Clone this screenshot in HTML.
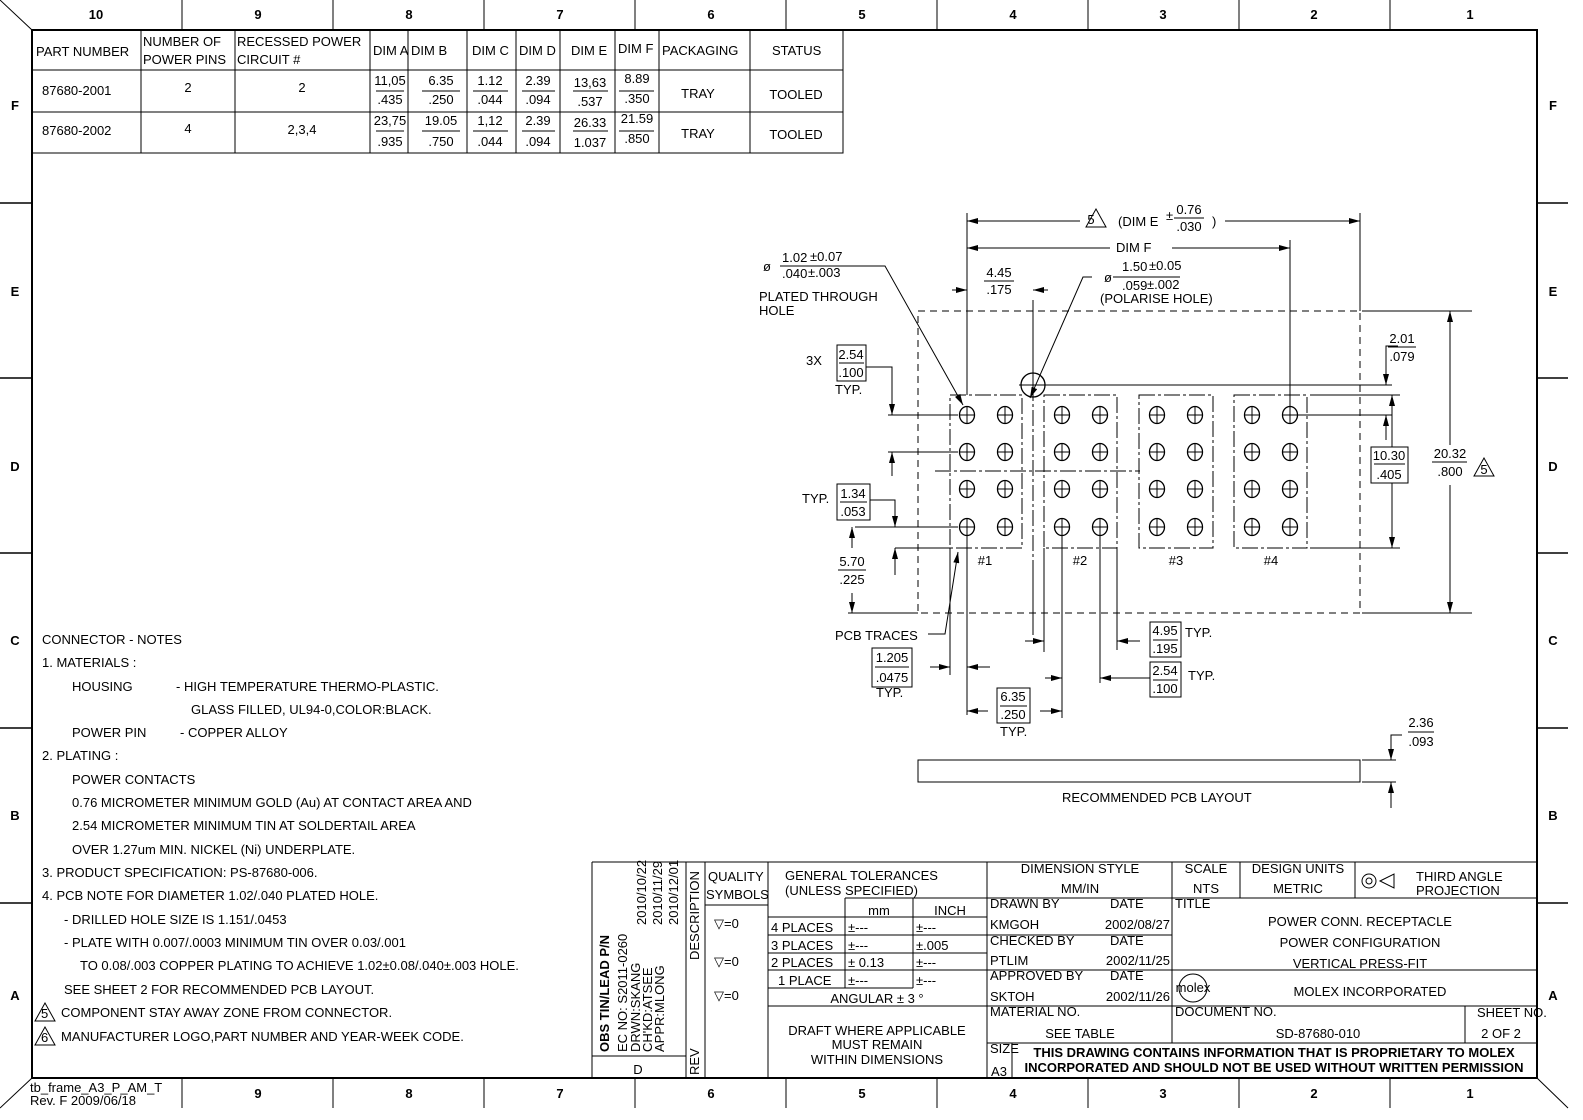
<!DOCTYPE html>
<html><head><meta charset="utf-8"><style>
html,body{margin:0;padding:0;background:#fff}
svg{display:block}
text{font-family:"Liberation Sans Narrow","Liberation Sans",sans-serif;fill:#000;font-size:13px}
.b{font-weight:bold}
</style></head><body>
<svg width="1583" height="1120" viewBox="0 0 1583 1120" xmlns="http://www.w3.org/2000/svg">
<defs>
<marker id="a" markerUnits="userSpaceOnUse" markerWidth="12" markerHeight="6" refX="11" refY="3" orient="auto"><path d="M0,0 L11,3 L0,6z" fill="#000"/></marker>
<g id="h"><ellipse cx="0" cy="0" rx="7.5" ry="8.5" fill="none" stroke="#000" stroke-width="1.3"/><line x1="-7.5" y1="0" x2="7.5" y2="0" stroke="#000"/><line x1="0" y1="-8.5" x2="0" y2="8.5" stroke="#000"/></g>
<g id="tri"><path d="M0,-10 L-10,8 L10,8z" fill="none" stroke="#000"/></g>
</defs>
<g stroke="#000" fill="none" stroke-width="1">
<rect x="32" y="30" width="1505" height="1048" stroke-width="2"/>
<line x1="0" y1="0" x2="32" y2="30"/>
<line x1="0" y1="1108" x2="32" y2="1078"/>
<line x1="1537" y1="1078" x2="1568" y2="1108"/>
<line x1="182" y1="0" x2="182" y2="30"/><line x1="333" y1="0" x2="333" y2="30"/><line x1="484" y1="0" x2="484" y2="30"/><line x1="635" y1="0" x2="635" y2="30"/><line x1="786" y1="0" x2="786" y2="30"/><line x1="937" y1="0" x2="937" y2="30"/><line x1="1088" y1="0" x2="1088" y2="30"/><line x1="1239" y1="0" x2="1239" y2="30"/><line x1="1390" y1="0" x2="1390" y2="30"/>
<line x1="182" y1="1078" x2="182" y2="1108"/><line x1="333" y1="1078" x2="333" y2="1108"/><line x1="484" y1="1078" x2="484" y2="1108"/><line x1="635" y1="1078" x2="635" y2="1108"/><line x1="786" y1="1078" x2="786" y2="1108"/><line x1="937" y1="1078" x2="937" y2="1108"/><line x1="1088" y1="1078" x2="1088" y2="1108"/><line x1="1239" y1="1078" x2="1239" y2="1108"/><line x1="1390" y1="1078" x2="1390" y2="1108"/>
<g stroke-width="1.5">
<line x1="0" y1="203" x2="32" y2="203"/><line x1="0" y1="378" x2="32" y2="378"/><line x1="0" y1="553" x2="32" y2="553"/><line x1="0" y1="728" x2="32" y2="728"/><line x1="0" y1="903" x2="32" y2="903"/>
<line x1="1537" y1="203" x2="1568" y2="203"/><line x1="1537" y1="378" x2="1568" y2="378"/><line x1="1537" y1="553" x2="1568" y2="553"/><line x1="1537" y1="728" x2="1568" y2="728"/><line x1="1537" y1="903" x2="1568" y2="903"/>
</g>
<rect x="32" y="30" width="811" height="123"/>
<line x1="32" y1="70" x2="843" y2="70"/><line x1="32" y1="112" x2="843" y2="112"/>
<line x1="141" y1="30" x2="141" y2="153"/><line x1="235" y1="30" x2="235" y2="153"/><line x1="370" y1="30" x2="370" y2="153"/><line x1="408" y1="30" x2="408" y2="153"/><line x1="467" y1="30" x2="467" y2="153"/><line x1="516" y1="30" x2="516" y2="153"/><line x1="560" y1="30" x2="560" y2="153"/><line x1="615" y1="30" x2="615" y2="153"/><line x1="659" y1="30" x2="659" y2="153"/><line x1="750" y1="30" x2="750" y2="153"/>
<g>
<line x1="376" y1="91" x2="404" y2="91"/><line x1="422" y1="91" x2="460" y2="91"/><line x1="473" y1="91" x2="508" y2="91"/><line x1="522" y1="91" x2="555" y2="91"/><line x1="573" y1="91" x2="608" y2="91"/><line x1="619" y1="91" x2="654" y2="91"/>
<line x1="376" y1="131" x2="404" y2="131"/><line x1="422" y1="131" x2="460" y2="131"/><line x1="473" y1="131" x2="508" y2="131"/><line x1="522" y1="131" x2="555" y2="131"/><line x1="573" y1="131" x2="608" y2="131"/><line x1="619" y1="131" x2="654" y2="131"/>
</g>
<rect x="918" y="311" width="442" height="302" stroke-dasharray="7,5"/>
<g stroke-dasharray="16,3,3,3">
<rect x="950" y="395" width="72" height="153"/><rect x="1044" y="395" width="73" height="153"/><rect x="1139" y="395" width="74" height="153"/><rect x="1234" y="395" width="73" height="153"/>
<line x1="935" y1="471" x2="1140" y2="471"/>
<line x1="1033" y1="360" x2="1033" y2="560"/>
</g>
<line x1="1033" y1="560" x2="1033" y2="635"/>
<circle cx="1033" cy="385" r="12" stroke-width="1.3"/><line x1="1019" y1="385" x2="1047" y2="385"/><line x1="1033" y1="371" x2="1033" y2="399"/>
<line x1="967" y1="213" x2="967" y2="395"/><line x1="1360" y1="213" x2="1360" y2="311"/>
<line x1="1080" y1="221" x2="967" y2="221" marker-end="url(#a)"/><line x1="1225" y1="221" x2="1360" y2="221" marker-end="url(#a)"/>
<use href="#tri" x="1096" y="219"/>
<line x1="1174" y1="218" x2="1204" y2="218"/>
<line x1="1290" y1="240" x2="1290" y2="407"/>
<line x1="1110" y1="248" x2="967" y2="248" marker-end="url(#a)"/><line x1="1172" y1="248" x2="1290" y2="248" marker-end="url(#a)"/>
<line x1="952" y1="290" x2="967" y2="290" marker-end="url(#a)"/><line x1="1048" y1="290" x2="1033" y2="290" marker-end="url(#a)"/>
<line x1="1033" y1="300" x2="1033" y2="360"/>
<line x1="984" y1="281" x2="1014" y2="281"/>
<line x1="780" y1="266" x2="858" y2="266"/>
<polyline points="858,266 885,266 963,405" marker-end="url(#a)"/>
<line x1="1113" y1="277" x2="1180" y2="277"/>
<polyline points="1092,277 1083,277 1030,398" marker-end="url(#a)"/>
<polyline points="1398,346 1386,346 1386,385" marker-end="url(#a)"/>
<line x1="1047" y1="385" x2="1392" y2="385"/>
<line x1="1297" y1="415" x2="1392" y2="415"/>
<line x1="1386" y1="440" x2="1386" y2="415" marker-end="url(#a)"/>
<line x1="1388" y1="347" x2="1416" y2="347"/>
<line x1="1310" y1="395" x2="1400" y2="395"/><line x1="1310" y1="548" x2="1400" y2="548"/>
<line x1="1392" y1="447" x2="1392" y2="395" marker-end="url(#a)"/><line x1="1392" y1="483" x2="1392" y2="548" marker-end="url(#a)"/>
<rect x="1371" y="447" width="37" height="36" fill="#fff"/><line x1="1374" y1="464" x2="1405" y2="464"/>
<line x1="1362" y1="311" x2="1472" y2="311"/><line x1="1362" y1="613" x2="1472" y2="613"/>
<line x1="1450" y1="445" x2="1450" y2="311" marker-end="url(#a)"/><line x1="1450" y1="485" x2="1450" y2="613" marker-end="url(#a)"/>
<line x1="1432" y1="462" x2="1467" y2="462"/>
<use href="#tri" x="1484" y="468"/>
<rect x="837" y="345" width="29" height="36"/><line x1="839" y1="363" x2="864" y2="363"/>
<polyline points="866,367 892,367 892,415" marker-end="url(#a)"/>
<line x1="888" y1="415" x2="958" y2="415"/>
<line x1="888" y1="452" x2="958" y2="452"/>
<line x1="892" y1="476" x2="892" y2="452" marker-end="url(#a)"/>
<rect x="837" y="484" width="33" height="36"/><line x1="840" y1="502" x2="867" y2="502"/>
<polyline points="870,500 895,500 895,527" marker-end="url(#a)"/>
<line x1="855" y1="527" x2="958" y2="527"/>
<line x1="895" y1="548" x2="950" y2="548"/>
<line x1="895" y1="575" x2="895" y2="548" marker-end="url(#a)"/>
<line x1="838" y1="570" x2="866" y2="570"/>
<line x1="852" y1="548" x2="852" y2="527" marker-end="url(#a)"/>
<line x1="852" y1="593" x2="852" y2="613" marker-end="url(#a)"/>
<line x1="848" y1="613" x2="918" y2="613"/>
<polyline points="928,634 945,634 958,552" marker-end="url(#a)"/>
<line x1="950" y1="548" x2="950" y2="675"/><line x1="967" y1="535" x2="967" y2="715"/>
<rect x="872" y="648" width="40" height="39"/><line x1="875" y1="667" x2="909" y2="667"/>
<line x1="930" y1="667" x2="950" y2="667" marker-end="url(#a)"/><line x1="990" y1="667" x2="967" y2="667" marker-end="url(#a)"/>
<line x1="1062" y1="535" x2="1062" y2="718"/>
<rect x="997" y="688" width="33" height="35"/><line x1="1000" y1="706" x2="1027" y2="706"/>
<line x1="988" y1="711" x2="967" y2="711" marker-end="url(#a)"/><line x1="1040" y1="711" x2="1062" y2="711" marker-end="url(#a)"/>
<line x1="1044" y1="548" x2="1044" y2="652"/><line x1="1117" y1="548" x2="1117" y2="650"/>
<line x1="1025" y1="641" x2="1044" y2="641" marker-end="url(#a)"/><line x1="1140" y1="641" x2="1117" y2="641" marker-end="url(#a)"/>
<rect x="1150" y="622" width="31" height="35"/><line x1="1153" y1="640" x2="1178" y2="640"/>
<line x1="1100" y1="535" x2="1100" y2="683"/>
<line x1="1045" y1="678" x2="1062" y2="678" marker-end="url(#a)"/><line x1="1150" y1="678" x2="1100" y2="678" marker-end="url(#a)"/>
<rect x="1150" y="662" width="31" height="35"/><line x1="1153" y1="680" x2="1178" y2="680"/>
<rect x="918" y="760" width="442" height="22"/>
<polyline points="1402,735 1391,735 1391,760" marker-end="url(#a)"/>
<line x1="1391" y1="808" x2="1391" y2="782" marker-end="url(#a)"/>
<line x1="1362" y1="760" x2="1396" y2="760"/><line x1="1362" y1="782" x2="1396" y2="782"/>
<line x1="1408" y1="732" x2="1434" y2="732"/>
<line x1="592" y1="862" x2="1537" y2="862"/>
<line x1="592" y1="862" x2="592" y2="1078"/>
<line x1="686" y1="862" x2="686" y2="1078"/><line x1="705" y1="862" x2="705" y2="1078"/><line x1="768" y1="862" x2="768" y2="1078"/><line x1="987" y1="862" x2="987" y2="1078"/>
<line x1="592" y1="1056" x2="686" y2="1056"/>
<line x1="705" y1="905" x2="768" y2="905"/>
<line x1="845" y1="898" x2="987" y2="898"/>
<line x1="768" y1="917" x2="987" y2="917"/><line x1="768" y1="935" x2="987" y2="935"/><line x1="768" y1="953" x2="987" y2="953"/><line x1="768" y1="970" x2="987" y2="970"/><line x1="768" y1="988" x2="913" y2="988"/><line x1="768" y1="1006" x2="987" y2="1006"/>
<line x1="845" y1="898" x2="845" y2="988"/><line x1="913" y1="898" x2="913" y2="988"/>
<line x1="987" y1="898" x2="1537" y2="898"/>
<line x1="1172" y1="862" x2="1172" y2="1043"/><line x1="1240" y1="862" x2="1240" y2="898"/><line x1="1355" y1="862" x2="1355" y2="898"/>
<line x1="987" y1="935" x2="1172" y2="935"/><line x1="987" y1="970" x2="1537" y2="970"/><line x1="987" y1="1006" x2="1537" y2="1006"/><line x1="987" y1="1043" x2="1537" y2="1043"/>
<line x1="1465" y1="1006" x2="1465" y2="1043"/>
<line x1="1012" y1="1043" x2="1012" y2="1078"/>
<circle cx="1369" cy="881" r="7"/><circle cx="1369" cy="881" r="3"/>
<path d="M1380,881 L1394,874 L1394,888 Z"/>
<circle cx="1193" cy="988" r="14"/>
<use href="#tri" x="45" y="1013"/><use href="#tri" x="45" y="1037"/>
</g>
<g>
<use href="#h" x="967" y="415"/><use href="#h" x="1005" y="415"/><use href="#h" x="967" y="452"/><use href="#h" x="1005" y="452"/><use href="#h" x="967" y="489"/><use href="#h" x="1005" y="489"/><use href="#h" x="967" y="527"/><use href="#h" x="1005" y="527"/>
<use href="#h" x="1062" y="415"/><use href="#h" x="1100" y="415"/><use href="#h" x="1062" y="452"/><use href="#h" x="1100" y="452"/><use href="#h" x="1062" y="489"/><use href="#h" x="1100" y="489"/><use href="#h" x="1062" y="527"/><use href="#h" x="1100" y="527"/>
<use href="#h" x="1157" y="415"/><use href="#h" x="1195" y="415"/><use href="#h" x="1157" y="452"/><use href="#h" x="1195" y="452"/><use href="#h" x="1157" y="489"/><use href="#h" x="1195" y="489"/><use href="#h" x="1157" y="527"/><use href="#h" x="1195" y="527"/>
<use href="#h" x="1252" y="415"/><use href="#h" x="1290" y="415"/><use href="#h" x="1252" y="452"/><use href="#h" x="1290" y="452"/><use href="#h" x="1252" y="489"/><use href="#h" x="1290" y="489"/><use href="#h" x="1252" y="527"/><use href="#h" x="1290" y="527"/>
</g>
<g text-anchor="middle">
<text x="96" y="19" class="b">10</text><text x="258" y="19" class="b">9</text><text x="409" y="19" class="b">8</text><text x="560" y="19" class="b">7</text><text x="711" y="19" class="b">6</text><text x="862" y="19" class="b">5</text><text x="1013" y="19" class="b">4</text><text x="1163" y="19" class="b">3</text><text x="1314" y="19" class="b">2</text><text x="1470" y="19" class="b">1</text>
<text x="258" y="1098" class="b">9</text><text x="409" y="1098" class="b">8</text><text x="560" y="1098" class="b">7</text><text x="711" y="1098" class="b">6</text><text x="862" y="1098" class="b">5</text><text x="1013" y="1098" class="b">4</text><text x="1163" y="1098" class="b">3</text><text x="1314" y="1098" class="b">2</text><text x="1470" y="1098" class="b">1</text>
<text x="15" y="110" class="b">F</text><text x="15" y="296" class="b">E</text><text x="15" y="471" class="b">D</text><text x="15" y="645" class="b">C</text><text x="15" y="820" class="b">B</text><text x="15" y="1000" class="b">A</text>
<text x="1553" y="110" class="b">F</text><text x="1553" y="296" class="b">E</text><text x="1553" y="471" class="b">D</text><text x="1553" y="645" class="b">C</text><text x="1553" y="820" class="b">B</text><text x="1553" y="1000" class="b">A</text>
</g>
<text x="30" y="1092" font-size="12">tb_frame_A3_P_AM_T</text>
<text x="30" y="1105" font-size="12">Rev. F 2009/06/18</text>
<g font-size="12.5">
<text x="36" y="56">PART NUMBER</text>
<text x="143" y="46">NUMBER OF</text><text x="143" y="64">POWER PINS</text>
<text x="237" y="46" font-size="12">RECESSED POWER</text><text x="237" y="64">CIRCUIT #</text>
<g font-size="11"><text x="373" y="55">DIM A</text><text x="411" y="55">DIM B</text><text x="472" y="55">DIM C</text><text x="519" y="55">DIM D</text><text x="571" y="55">DIM E</text><text x="618" y="53">DIM F</text></g>
<text x="662" y="55">PACKAGING</text><text x="772" y="55">STATUS</text>
<text x="42" y="95">87680-2001</text><text x="42" y="135">87680-2002</text>
<g text-anchor="middle">
<text x="188" y="92">2</text><text x="302" y="92">2</text><text x="188" y="133">4</text><text x="302" y="134">2,3,4</text>
<text x="390" y="85">11,05</text><text x="390" y="104">.435</text><text x="441" y="85">6.35</text><text x="441" y="104">.250</text><text x="490" y="85">1.12</text><text x="490" y="104">.044</text><text x="538" y="85">2.39</text><text x="538" y="104">.094</text><text x="590" y="87">13,63</text><text x="590" y="106">.537</text><text x="637" y="83">8.89</text><text x="637" y="103">.350</text>
<text x="390" y="125">23,75</text><text x="390" y="146">.935</text><text x="441" y="125">19.05</text><text x="441" y="146">.750</text><text x="490" y="125">1,12</text><text x="490" y="146">.044</text><text x="538" y="125">2.39</text><text x="538" y="146">.094</text><text x="590" y="127">26.33</text><text x="590" y="147">1.037</text><text x="637" y="123">21.59</text><text x="637" y="143">.850</text>
<text x="698" y="98">TRAY</text><text x="796" y="99">TOOLED</text><text x="698" y="138">TRAY</text><text x="796" y="139">TOOLED</text>
</g></g>
<g font-size="13.5">
<text x="1091" y="224" font-size="10" text-anchor="middle">5</text>
<text x="1118" y="226">(DIM E</text><text x="1166" y="220" font-size="9">±</text>
<text x="1189" y="214" text-anchor="middle">0.76</text><text x="1189" y="231" text-anchor="middle">.030</text><text x="1212" y="226">)</text>
<text x="1116" y="252">DIM F</text>
<text x="999" y="277" text-anchor="middle">4.45</text><text x="999" y="294" text-anchor="middle">.175</text>
<text x="763" y="271">ø</text><text x="782" y="262">1.02</text><text x="810" y="261" font-size="9">±0.07</text><text x="782" y="278">.040</text><text x="808" y="277" font-size="9">±.003</text>
<text x="759" y="301">PLATED THROUGH</text><text x="759" y="315">HOLE</text>
<text x="1104" y="282">ø</text><text x="1122" y="271">1.50</text><text x="1149" y="270" font-size="9">±0.05</text><text x="1122" y="290">.059</text><text x="1147" y="289" font-size="9">±.002</text>
<text x="1100" y="303">(POLARISE HOLE)</text>
<text x="1402" y="343" text-anchor="middle">2.01</text><text x="1402" y="361" text-anchor="middle">.079</text>
<text x="1389" y="460" text-anchor="middle">10.30</text><text x="1389" y="479" text-anchor="middle">.405</text>
<text x="1450" y="458" text-anchor="middle">20.32</text><text x="1450" y="476" text-anchor="middle">.800</text>
<text x="1484" y="474" font-size="10" text-anchor="middle">5</text>
<text x="806" y="365">3X</text><text x="851" y="359" text-anchor="middle">2.54</text><text x="851" y="377" text-anchor="middle">.100</text><text x="835" y="394">TYP.</text>
<text x="802" y="503">TYP.</text><text x="853" y="498" text-anchor="middle">1.34</text><text x="853" y="516" text-anchor="middle">.053</text>
<text x="852" y="566" text-anchor="middle">5.70</text><text x="852" y="584" text-anchor="middle">.225</text>
<text x="835" y="640">PCB TRACES</text>
<text x="985" y="565" text-anchor="middle">#1</text><text x="1080" y="565" text-anchor="middle">#2</text><text x="1176" y="565" text-anchor="middle">#3</text><text x="1271" y="565" text-anchor="middle">#4</text>
<text x="892" y="662" text-anchor="middle">1.205</text><text x="892" y="682" text-anchor="middle">.0475</text><text x="876" y="697">TYP.</text>
<text x="1013" y="701" text-anchor="middle">6.35</text><text x="1013" y="719" text-anchor="middle">.250</text><text x="1000" y="736">TYP.</text>
<text x="1165" y="635" text-anchor="middle">4.95</text><text x="1165" y="653" text-anchor="middle">.195</text><text x="1185" y="637">TYP.</text>
<text x="1165" y="675" text-anchor="middle">2.54</text><text x="1165" y="693" text-anchor="middle">.100</text><text x="1188" y="680">TYP.</text>
<text x="1421" y="727" text-anchor="middle">2.36</text><text x="1421" y="746" text-anchor="middle">.093</text>
<text x="1062" y="802">RECOMMENDED PCB LAYOUT</text>
</g>
<g font-size="14.3">
<text x="42" y="644">CONNECTOR - NOTES</text>
<text x="42" y="667">1.  MATERIALS :</text>
<text x="72" y="691">HOUSING</text><text x="176" y="691">- HIGH TEMPERATURE THERMO-PLASTIC.</text>
<text x="191" y="714">GLASS FILLED, UL94-0,COLOR:BLACK.</text>
<text x="72" y="737">POWER PIN</text><text x="180" y="737">- COPPER ALLOY</text>
<text x="42" y="760">2.  PLATING :</text>
<text x="72" y="784">POWER CONTACTS</text>
<text x="72" y="807">0.76 MICROMETER MINIMUM GOLD (Au) AT CONTACT AREA AND</text>
<text x="72" y="830">2.54 MICROMETER MINIMUM TIN AT SOLDERTAIL AREA</text>
<text x="72" y="854">OVER 1.27um MIN. NICKEL (Ni) UNDERPLATE.</text>
<text x="42" y="877">3. PRODUCT SPECIFICATION: PS-87680-006.</text>
<text x="42" y="900">4. PCB NOTE FOR DIAMETER 1.02/.040 PLATED HOLE.</text>
<text x="64" y="924">- DRILLED HOLE SIZE IS 1.151/.0453</text>
<text x="64" y="947">- PLATE WITH 0.007/.0003 MINIMUM TIN OVER 0.03/.001</text>
<text x="80" y="970">TO 0.08/.003 COPPER PLATING TO ACHIEVE 1.02±0.08/.040±.003 HOLE.</text>
<text x="64" y="994">SEE SHEET 2 FOR RECOMMENDED PCB LAYOUT.</text>
<text x="41" y="1018" font-size="10">5</text><text x="61" y="1017">COMPONENT STAY AWAY ZONE FROM CONNECTOR.</text>
<text x="41" y="1042" font-size="10">6</text><text x="61" y="1041">MANUFACTURER LOGO,PART NUMBER AND YEAR-WEEK CODE.</text>
</g>
<g font-size="12">
<text transform="translate(609,1052) rotate(-90)" font-size="15" class="b">OBS TIN/LEAD P/N</text>
<text transform="translate(627,1052) rotate(-90)" font-size="13">EC NO: S2011-0260</text>
<text transform="translate(640,1052) rotate(-90)" font-size="13">DRWN:SKANG</text>
<text transform="translate(652,1052) rotate(-90)" font-size="13">CH'KD:ATSEE</text>
<text transform="translate(664,1052) rotate(-90)" font-size="13">APPR:MLONG</text>
<text transform="translate(646,925) rotate(-90)" font-size="12">2010/10/22</text>
<text transform="translate(662,925) rotate(-90)" font-size="12">2010/11/29</text>
<text transform="translate(678,925) rotate(-90)" font-size="12">2010/12/01</text>
<text transform="translate(699,960) rotate(-90)" font-size="10">DESCRIPTION</text>
<text transform="translate(699,1075) rotate(-90)" font-size="10">REV</text>
<text x="638" y="1074" font-size="18" text-anchor="middle">D</text>
<text x="708" y="881" font-size="14">QUALITY</text><text x="706" y="899" font-size="14">SYMBOLS</text>
<text x="714" y="928" font-size="14">▽=0</text><text x="714" y="966" font-size="14">▽=0</text><text x="714" y="1000" font-size="14">▽=0</text>
<text x="785" y="880" font-size="15">GENERAL TOLERANCES</text><text x="785" y="895" font-size="15">(UNLESS SPECIFIED)</text>
<text x="879" y="915" font-size="13" text-anchor="middle">mm</text><text x="950" y="915" font-size="15" text-anchor="middle">INCH</text>
<text x="771" y="932" font-size="14">4 PLACES</text><text x="848" y="932" font-size="14">±---</text><text x="916" y="932" font-size="14">±---</text>
<text x="771" y="950" font-size="14">3 PLACES</text><text x="848" y="950" font-size="14">±---</text><text x="916" y="950" font-size="14">±.005</text>
<text x="771" y="967" font-size="14">2 PLACES</text><text x="848" y="967" font-size="14">± 0.13</text><text x="916" y="967" font-size="14">±---</text>
<text x="778" y="985" font-size="14">1 PLACE</text><text x="848" y="985" font-size="14">±---</text><text x="916" y="985" font-size="14">±---</text>
<text x="877" y="1003" font-size="14" text-anchor="middle">ANGULAR ± 3 °</text>
<text x="877" y="1035" font-size="15" text-anchor="middle">DRAFT WHERE APPLICABLE</text>
<text x="877" y="1049" font-size="15" text-anchor="middle">MUST REMAIN</text>
<text x="877" y="1064" font-size="15" text-anchor="middle">WITHIN DIMENSIONS</text>
<text x="1080" y="873" font-size="9" text-anchor="middle">DIMENSION STYLE</text><text x="1080" y="893" font-size="15" text-anchor="middle">MM/IN</text>
<text x="1206" y="873" font-size="9" text-anchor="middle">SCALE</text><text x="1206" y="893" font-size="16" text-anchor="middle">NTS</text>
<text x="1298" y="873" font-size="9" text-anchor="middle">DESIGN UNITS</text><text x="1298" y="893" font-size="16" text-anchor="middle">METRIC</text>
<text x="1416" y="881" font-size="16">THIRD ANGLE</text><text x="1416" y="895" font-size="16">PROJECTION</text>
<text x="990" y="908" font-size="9">DRAWN BY</text><text x="1110" y="908" font-size="9">DATE</text>
<text x="990" y="929" font-size="14">KMGOH</text><text x="1170" y="929" font-size="14" text-anchor="end">2002/08/27</text>
<text x="990" y="945" font-size="9">CHECKED BY</text><text x="1110" y="945" font-size="9">DATE</text>
<text x="990" y="965" font-size="14">PTLIM</text><text x="1170" y="965" font-size="14" text-anchor="end">2002/11/25</text>
<text x="990" y="980" font-size="9">APPROVED BY</text><text x="1110" y="980" font-size="9">DATE</text>
<text x="990" y="1001" font-size="14">SKTOH</text><text x="1170" y="1001" font-size="14" text-anchor="end">2002/11/26</text>
<text x="990" y="1016" font-size="9">MATERIAL NO.</text><text x="1080" y="1038" font-size="21" text-anchor="middle">SEE TABLE</text>
<text x="1175" y="908" font-size="9">TITLE</text>
<text x="1360" y="926" font-size="20" text-anchor="middle">POWER CONN. RECEPTACLE</text>
<text x="1360" y="947" font-size="20" text-anchor="middle">POWER CONFIGURATION</text>
<text x="1360" y="968" font-size="20" text-anchor="middle">VERTICAL PRESS-FIT</text>
<text x="1193" y="992" font-size="11" text-anchor="middle">molex</text>
<text x="1370" y="996" font-size="21" text-anchor="middle">MOLEX INCORPORATED</text>
<text x="1175" y="1016" font-size="9">DOCUMENT NO.</text><text x="1318" y="1038" font-size="20" text-anchor="middle">SD-87680-010</text>
<text x="1477" y="1017" font-size="9">SHEET NO.</text><text x="1501" y="1038" font-size="17" text-anchor="middle">2 OF 2</text>
<text x="990" y="1053" font-size="9">SIZE</text><text x="999" y="1076" font-size="20" text-anchor="middle">A3</text>
<text x="1274" y="1057" font-size="13.5" text-anchor="middle" class="b">THIS DRAWING CONTAINS INFORMATION THAT IS PROPRIETARY TO MOLEX</text>
<text x="1274" y="1072" font-size="13.5" text-anchor="middle" class="b">INCORPORATED AND SHOULD NOT BE USED WITHOUT WRITTEN PERMISSION</text>
</g>
</svg>
</body></html>
